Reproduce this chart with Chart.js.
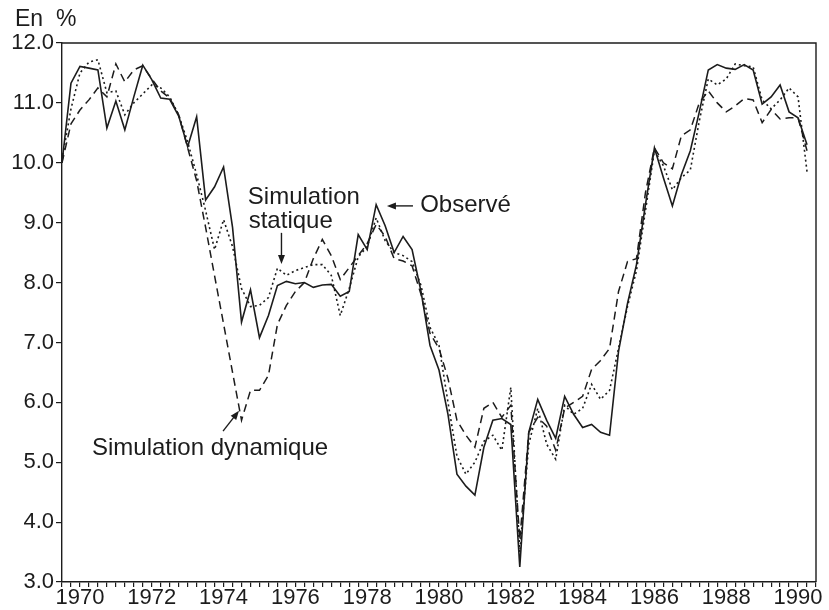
<!DOCTYPE html>
<html>
<head>
<meta charset="utf-8">
<script src="https://cdn.jsdelivr.net/npm/chart.js@4.4.1/dist/chart.umd.min.js"></script>
<style>
  html, body { margin: 0; padding: 0; background: #fff; }
  canvas { display: block; }
</style>
</head>
<body>
<canvas id="chart" width="829" height="610"></canvas>
<script>
// Taux trimestriels 1970T1 - 1990T4 (x = index du trimestre)
const yearLabels = ['1970', '1972', '1974', '1976', '1978', '1980', '1982', '1984', '1986', '1988', '1990'];

const observe = [
    10.0, 11.33, 11.61, 11.58, 11.55, 10.58, 11.03, 10.55, 11.1, 11.63,
    11.39, 11.08, 11.06, 10.78, 10.27, 10.77, 9.38, 9.6, 9.93, 8.92,
    7.34, 7.88, 7.08, 7.45, 7.95, 8.02, 7.98, 8.0, 7.92, 7.96,
    7.97, 7.77, 7.85, 8.8, 8.55, 9.3, 8.95, 8.5, 8.77, 8.55,
    7.85, 6.95, 6.54, 5.8, 4.8, 4.6, 4.45, 5.25, 5.7, 5.73,
    5.63, 3.25, 5.5, 6.05, 5.7, 5.4, 6.1, 5.8, 5.58, 5.63,
    5.5, 5.45, 6.85, 7.65, 8.3, 9.3, 10.25, 9.75, 9.28, 9.8,
    10.2, 10.85, 11.55, 11.64, 11.58, 11.56, 11.64, 11.55, 10.98, 11.1,
    11.3, 10.85, 10.75, 10.3
];

const simStatique = [
    10.05, 10.9, 11.5, 11.68, 11.72, 11.17, 11.2, 10.8, 11.0, 11.15,
    11.3, 11.25, 11.1, 10.8, 10.35, 9.8, 9.2, 8.55, 9.05, 8.6,
    7.9, 7.6, 7.62, 7.75, 8.24, 8.12, 8.2, 8.25, 8.3, 8.3,
    8.12, 7.45, 7.9, 8.43, 8.6, 9.08, 8.7, 8.5, 8.45, 8.35,
    7.95, 7.25, 6.95, 6.0, 5.1, 4.8, 5.0, 5.35, 5.45, 5.2,
    6.25, 3.5, 5.3, 5.9, 5.3, 5.05, 5.95, 5.8, 5.9, 6.3,
    6.05, 6.2, 6.9, 7.6, 8.2, 9.2, 10.2, 9.95, 9.55, 9.75,
    9.88, 10.7, 11.4, 11.3, 11.4, 11.65, 11.62, 11.6, 11.05, 10.9,
    11.05, 11.25, 11.1, 9.85
];

const simDynamique = [
    10.0, 10.65, 10.88, 11.05, 11.25, 11.1, 11.65, 11.35, 11.55, 11.62,
    11.4, 11.2, 11.08, 10.8, 10.25, 9.7, 8.92, 8.11, 7.31, 6.5,
    5.7, 6.2, 6.2, 6.45, 7.3, 7.62, 7.85, 8.0, 8.4, 8.72,
    8.45, 8.05, 8.25, 8.45, 8.65, 8.97, 8.77, 8.4, 8.36, 8.28,
    7.8, 7.15, 6.9, 6.4, 5.7, 5.45, 5.25, 5.9, 6.0, 5.75,
    5.95, 3.7, 5.5, 5.75, 5.6, 5.2, 5.9, 6.0, 6.1, 6.55,
    6.7, 6.9, 7.85, 8.35, 8.4, 9.5, 10.25, 10.0, 9.9, 10.45,
    10.55, 11.0, 11.2, 11.0, 10.85, 10.95, 11.07, 11.05, 10.67, 10.89,
    10.73, 10.75, 10.75, 10.2
];

// annotations, en coordonnées des données (trimestre, %)
const notes = [
    { text: 'Simulation', x: 20.7, y: 9.31 },
    { text: 'statique', x: 20.8, y: 8.91 },
    { text: 'Observé', x: 39.9, y: 9.18 },
    { text: 'Simulation dynamique', x: 3.34, y: 5.12 }
];
const arrows = [
    { from: [24.45, 8.83], to: [24.45, 8.31] },
    { from: [39.1, 9.28], to: [36.2, 9.28] },
    { from: [17.94, 5.52], to: [19.72, 5.86] }
];

const INK = '#1c1c1c';
const FONT = '"Liberation Sans", Arial, sans-serif';

const toPoints = arr => arr.map((v, i) => ({ x: i, y: v }));

const decorations = {
    id: 'decorations',
    afterDraw(chart) {
        const { ctx, chartArea: a, scales: { x, y } } = chart;
        ctx.save();
        // cadre haut et droite
        ctx.strokeStyle = INK;
        ctx.lineWidth = 1.4;
        ctx.beginPath();
        ctx.moveTo(a.left, a.top);
        ctx.lineTo(a.right, a.top);
        ctx.lineTo(a.right, a.bottom);
        ctx.stroke();

        ctx.fillStyle = INK;
        ctx.textBaseline = 'alphabetic';
        ctx.textAlign = 'left';
        ctx.font = '23px ' + FONT;
        ctx.fillText('En  %', a.left - 47, a.top - 17);

        ctx.font = '24px ' + FONT;
        notes.forEach(n => {
            ctx.fillText(n.text, x.getPixelForValue(n.x), y.getPixelForValue(n.y));
        });

        arrows.forEach(ar => {
            const x0 = x.getPixelForValue(ar.from[0]), y0 = y.getPixelForValue(ar.from[1]);
            const x1 = x.getPixelForValue(ar.to[0]), y1 = y.getPixelForValue(ar.to[1]);
            const ang = Math.atan2(y1 - y0, x1 - x0);
            ctx.lineWidth = 1.4;
            ctx.beginPath();
            ctx.moveTo(x0, y0);
            ctx.lineTo(x1 - 6 * Math.cos(ang), y1 - 6 * Math.sin(ang));
            ctx.stroke();
            ctx.beginPath();
            ctx.moveTo(x1, y1);
            ctx.lineTo(x1 - 9 * Math.cos(ang) + 3.5 * Math.sin(ang), y1 - 9 * Math.sin(ang) - 3.5 * Math.cos(ang));
            ctx.lineTo(x1 - 9 * Math.cos(ang) - 3.5 * Math.sin(ang), y1 - 9 * Math.sin(ang) + 3.5 * Math.cos(ang));
            ctx.closePath();
            ctx.fill();
        });
        ctx.restore();
    }
};

new Chart(document.getElementById('chart'), {
    type: 'line',
    data: {
        datasets: [
            { label: 'Observé', data: toPoints(observe), borderColor: INK, borderWidth: 1.6 },
            { label: 'Simulation statique', data: toPoints(simStatique), borderColor: INK, borderWidth: 1.6, borderDash: [2, 3] },
            { label: 'Simulation dynamique', data: toPoints(simDynamique), borderColor: INK, borderWidth: 1.5, borderDash: [8, 5] }
        ]
    },
    options: {
        responsive: false,
        animation: false,
        events: [],
        elements: { point: { radius: 0 }, line: { tension: 0 } },
        layout: { padding: { top: 43, right: 13, left: 0, bottom: 0 } },
        plugins: { legend: { display: false }, tooltip: { enabled: false } },
        scales: {
            x: {
                type: 'linear',
                min: 0,
                max: 84,
                afterFit: s => { s.height = 28; },
                border: { display: true, color: INK, width: 1.4 },
                grid: { drawOnChartArea: false, drawTicks: true, tickLength: 5, color: INK, lineWidth: 1.2 },
                ticks: {
                    stepSize: 1,
                    autoSkip: false,
                    maxRotation: 0,
                    padding: -2,
                    color: INK,
                    font: { family: FONT, size: 22 },
                    callback: v => ((v - 2) % 8 === 0 ? yearLabels[(v - 2) / 8] : '')
                }
            },
            y: {
                min: 3,
                max: 12,
                afterFit: s => { s.width = 62; },
                border: { display: true, color: INK, width: 1.4 },
                grid: { drawOnChartArea: false, drawTicks: true, tickLength: 6, color: INK, lineWidth: 1.2 },
                ticks: {
                    stepSize: 1,
                    padding: 2,
                    color: INK,
                    font: { family: FONT, size: 22 },
                    callback: v => v.toFixed(1)
                }
            }
        }
    },
    plugins: [decorations]
});
</script>
</body>
</html>
